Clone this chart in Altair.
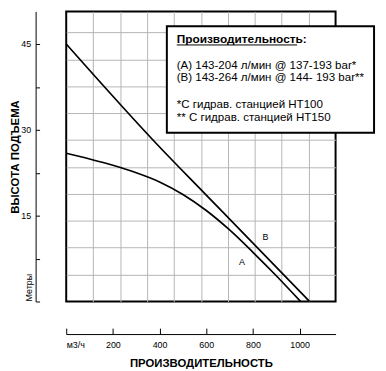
import altair as alt
import pandas as pd

# ---- data ----
# curve A (flow m3/h, head m)
a_q = [0, 100, 200, 300, 400, 500, 600, 700, 800, 900, 1004]
a_h = [25.9, 24.9, 23.8, 22.5, 20.9, 18.7, 15.9, 12.5, 8.6, 4.5, 0]
# curve B
b_q = [0, 400, 600, 800, 1043]
b_h = [45, 27.0, 18.6, 10.2, 0]

x_ticks = [0, 200, 400, 600, 800, 1000]
y_ticks = [0, 7.5, 15, 22.5, 30, 37.5, 45]
y_labels = [15, 30, 45]
x_grid = [115, 231, 346, 462, 577, 692, 808, 923, 1039]
y_grid = [4.7, 9.4, 14.1, 18.8, 23.5, 28.2, 32.9, 37.6, 42.3, 47.0]

curve_names = ["A", "B"]
curve_label_q = [753, 854]
curve_label_h = [6.9, 11.2]

legend_title = "Производительность:"
legend_lines = [
    "(A) 143-204 л/мин @ 137-193 bar*",
    "(B) 143-264 л/мин @ 144- 193 bar**",
    "*С гидрав. станцией HT100",
    "** С гидрав. станцией HT150",
]

x_title = "ПРОИЗВОДИТЕЛЬНОСТЬ"
y_title = "ВЫСОТА ПОДЪЕМА"
y_unit = "Метры"
x_unit = "м3/ч"

# ---- layout ----
W, H = 273, 294
FONT = "Liberation Sans"

xs = alt.Scale(domain=[0, 1154], nice=False, zero=False)
ys = alt.Scale(domain=[0, H / 5.8], nice=False, zero=False)

curves = pd.DataFrame({
    "Q": a_q + b_q,
    "H": a_h + b_h,
    "curve": ["A"] * len(a_q) + ["B"] * len(b_q),
})

lines = alt.Chart(curves).mark_line(
    color="black", strokeWidth=1.7, interpolate="monotone"
).encode(
    x=alt.X("Q:Q", scale=xs, axis=alt.Axis(
        orient="bottom", values=x_grid, grid=True, gridColor="#b5b5b5",
        gridWidth=1, labels=False, ticks=False, domain=False, title=None)),
    y=alt.Y("H:Q", scale=ys, axis=alt.Axis(
        orient="left", values=y_grid, grid=True, gridColor="#b5b5b5",
        gridWidth=1, labels=False, ticks=False, domain=False, title=None)),
    detail="curve:N",
)

xt_df = pd.DataFrame({"v": x_ticks})
yt_df = pd.DataFrame({"v": y_ticks})

x_tick_axis = alt.Chart(xt_df).mark_point(opacity=0).encode(
    x=alt.X("v:Q", scale=xs, axis=alt.Axis(
        orient="top", offset=-(H + 33), values=x_ticks, tickSize=6,
        tickColor="black", tickWidth=1, domainColor="black", domainWidth=1,
        labels=False, grid=False, title=None)),
)

x_label_axis = alt.Chart(xt_df).mark_point(opacity=0).encode(
    x=alt.X("v:Q", scale=xs, axis=alt.Axis(
        orient="bottom", offset=33, values=x_ticks, ticks=False, domain=False,
        grid=False, labelFlush=True, format="d",
        labelExpr="datum.value == 0 ? '" + x_unit + "' : datum.label",
        labelFontSize=9, labelPadding=7, labelBaseline="top",
        title=x_title, titleFontSize=11.5, titleFontWeight="bold",
        titlePadding=8)),
)

y_tick_axis = alt.Chart(yt_df).mark_point(opacity=0).encode(
    y=alt.Y("v:Q", scale=ys, axis=alt.Axis(
        orient="right", offset=-(W + 31), values=y_ticks, tickSize=4,
        tickColor="black", tickWidth=1, domainColor="black", domainWidth=1,
        labels=False, grid=False, title=None)),
)

y_label_axis = alt.Chart(yt_df).mark_point(opacity=0).encode(
    y=alt.Y("v:Q", scale=ys, axis=alt.Axis(
        orient="left", offset=31, values=y_labels, ticks=False, domain=False,
        grid=False, labelFontSize=9, labelPadding=5,
        title=y_title, titleFontSize=11.5, titleFontWeight="bold",
        titlePadding=0)),
)

one = pd.DataFrame({"k": [0]})

box = alt.Chart(one).mark_rect(fill="white", stroke="black", strokeWidth=2).encode(
    x=alt.value(102), x2=alt.value(312), y=alt.value(15), y2=alt.value(123)
)

legend_head = alt.Chart(one).mark_text(
    text=legend_title, align="left", baseline="middle", fontSize=12,
    fontWeight="bold", font=FONT, color="black"
).encode(x=alt.value(112), y=alt.value(28))

underline = alt.Chart(one).mark_rule(color="black", strokeWidth=1).encode(
    x=alt.value(112), x2=alt.value(234), y=alt.value(34)
)

legend_rows = []
for txt, yy in zip(legend_lines, [54, 67, 94, 107]):
    legend_rows.append(
        alt.Chart(one).mark_text(
            text=txt, align="left", baseline="middle", fontSize=11.7,
            font=FONT, color="black"
        ).encode(x=alt.value(112), y=alt.value(yy))
    )

lab_df = pd.DataFrame({"name": curve_names, "Q": curve_label_q, "H": curve_label_h})
curve_labels = alt.Chart(lab_df).mark_text(
    fontSize=9, font=FONT, color="black", align="center", baseline="middle"
).encode(
    x=alt.X("Q:Q", scale=xs, axis=None),
    y=alt.Y("H:Q", scale=ys, axis=None),
    text="name:N",
)

unit_y = alt.Chart(one).mark_text(
    text=y_unit, angle=270, align="left", baseline="middle", fontSize=9,
    font=FONT, color="black"
).encode(x=alt.value(-38), y=alt.value(H))

chart = alt.layer(
    lines, x_tick_axis, x_label_axis, y_tick_axis, y_label_axis,
    box, legend_head, underline, *legend_rows, curve_labels, unit_y
).resolve_axis(
    x="independent", y="independent"
).properties(
    width=W, height=H,
    autosize=alt.AutoSizeParams(type="none"),
    padding={"left": 59, "top": 1, "right": 43, "bottom": 70},
).configure_view(
    stroke="black", strokeWidth=2
).configure_axis(
    labelFont=FONT, titleFont=FONT, labelColor="black", titleColor="black"
)

chart.save("out.html", embed_options={"renderer": "svg", "actions": False})
